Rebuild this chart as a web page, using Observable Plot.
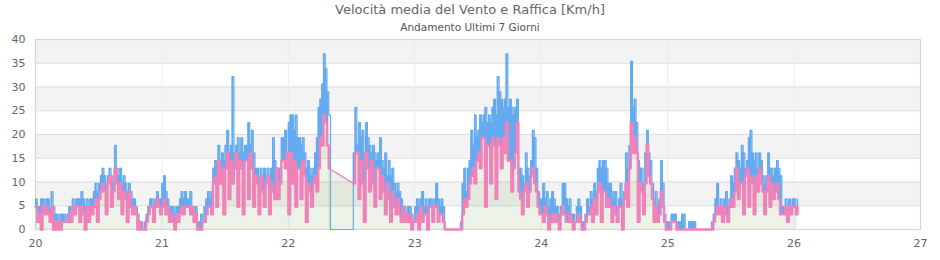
<!DOCTYPE html>
<html>
<head>
<meta charset="utf-8">
<script src="https://cdn.jsdelivr.net/npm/d3@7"></script>
<script src="https://cdn.jsdelivr.net/npm/@observablehq/plot@0.6"></script>
<style>
  html, body { margin: 0; padding: 0; background: #fff; }
  #wrap { position: relative; width: 940px; height: 260px; font-family: "DejaVu Sans", sans-serif; }
  #title { position: absolute; left: 0; width: 940px; top: 2px; text-align: center; font-size: 13px; color: #666; }
  #subtitle { position: absolute; left: 0; width: 940px; top: 21px; text-align: center; font-size: 10.5px; color: #555; }
</style>
</head>
<body>
<div id="wrap">
  <div id="chart"></div>
  <div id="title"></div>
  <div id="subtitle"></div>
</div>
<script>
const titolo = "Velocità media del Vento e Raffica [Km/h]";
const sottotitolo = "Andamento Ultimi 7 Giorni";
const xTicks = [20, 21, 22, 23, 24, 25, 26, 27];
const yTicks = [0, 5, 10, 15, 20, 25, 30, 35, 40];
const giorni = [20, 21, 22, 23, 24, 25, 26];
const n = null;

// Raffica (gust), one value every 20 minutes, per day
const raffica20 = [6.4,4.8,4.8, 6.4,6.4,4.8, 6.4,6.4,4.8, 8,4.8,3.2, 3.2,1.6,3.2, 3.2,3.2,1.6, 3.2,4.8,3.2, 6.4,4.8,6.4, 6.4,6.4,8, 6.4,4.8,6.4, 4.8,6.4,6.4, 8,9.7,8, 9.7,11.3,12.9, 11.3,9.7,11.3, 12.9,11.3,9.7, 17.7,12.9,11.3, 12.9,9.7,11.3, 9.7,8,9.7, 8,6.4,6.4, 4.8,3.2,1.6, 1.6,0,1.6, 3.2,4.8,6.4, 6.4,4.8,6.4, 8,6.4,6.4];
const raffica21 = [9.7,11.3,8, 6.4,4.8,4.8, 4.8,3.2,4.8, 4.8,6.4,8, 6.4,8,6.4, 6.4,8,4.8, 3.2,4.8,1.6, 1.6,3.2,1.6, 4.8,6.4,8, 6.4,8,12.9, 14.5,12.9,17.7, 14.5,16.1,14.5, 17.7,20.9,16.1, 17.7,32.2,16.1, 17.7,19.3,16.1, 19.3,16.1,17.7, 17.7,22.5,17.7, 20.9,16.1,12.9, 12.9,11.3,12.9, 11.3,12.9,11.3, 12.9,11.3,12.9, 19.3,14.5,12.9, 9.7,12.9,19.3, 19.3,20.9,16.1];
const raffica22 = [22.5,24.1,24.1, 20.9,24.1,19.3, 19.3,17.7,19.3, 16.1,12.9,14.5, 12.9,11.3,12.9, 16.1,19.3,25.7, 27.4,30.6,37, 33.8,29,24.1, 0,0,0, 0,0,0, 0,0,0, 0,0,0, 0,16.1,25.7, 17.7,22.5,19.3, 20.9,16.1,22.5, 19.3,17.7,16.1, 17.7,16.1,14.5, 16.1,19.3,14.5, 12.9,16.1,11.3, 14.5,11.3,12.9, 9.7,8,9.7, 8,6.4,4.8, 4.8,3.2,4.8, 4.8,3.2,1.6];
const raffica23 = [4.8,6.4,4.8, 6.4,8,4.8, 6.4,4.8,6.4, 6.4,4.8,6.4, 9.7,6.4,4.8, 6.4,4.8,0, 0,0,0, 0,0,0, 0,0,1.6, 9.7,12.9,8, 12.9,14.5,20.9, 17.7,24.1,19.3, 20.9,24.1,22.5, 24.1,25.7,22.5, 24.1,22.5,25.7, 27.4,24.1,32.2, 29,27.4,25.7, 27.4,37,25.7, 27.4,25.7,24.1, 25.7,27.4,12.9, 12.9,11.3,9.7, 16.1,12.9,11.3, 14.5,20.9,19.3, 12.9,8,6.4];
const raffica24 = [6.4,9.7,6.4, 8,4.8,6.4, 8,6.4,4.8, 4.8,3.2,4.8, 9.7,9.7,6.4, 4.8,6.4,3.2, 3.2,1.6,4.8, 6.4,4.8,1.6, 1.6,3.2,6.4, 4.8,8,6.4, 9.7,8,12.9, 14.5,12.9,14.5, 14.5,12.9,9.7, 9.7,8,6.4, 8,4.8,6.4, 9.7,6.4,8, 16.1,12.9,17.7, 35.4,25.7,27.4, 22.5,14.5,12.9, 12.9,9.7,16.1, 20.9,16.1,14.5, 9.7,6.4,8, 4.8,6.4,14.5, 9.7,3.2,1.6];
const raffica25 = [1.6,0,3.2, 3.2,3.2,1.6, 1.6,1.6,3.2, 3.2,0,0, 1.6,1.6,1.6, 1.6,0,0, 0,0,0, 0,0,0, 0,1.6,3.2, 6.4,9.7,4.8, 6.4,4.8,6.4, 8,4.8,6.4, 11.3,9.7,12.9, 16.1,14.5,12.9, 17.7,16.1,12.9, 14.5,19.3,20.9, 16.1,14.5,16.1, 12.9,16.1,14.5, 11.3,9.7,11.3, 16.1,12.9,12.9, 11.3,12.9,14.5, 12.9,11.3,4.8, 4.8,6.4,4.8, 6.4,4.8,6.4];
const raffica26 = [6.4,4.8,6.4];

// Velocità media (mean wind), same timestamps; null = missing sample
const media20 = [4.8,1.6,3.2, 0,4.8,3.2, 4.8,3.2,1.6, 4.8,0,1.6, 0,1.6,0, 1.6,1.6,1.6, 1.6,3.2,1.6, 4.8,3.2,4.8, 4.8,1.6,4.8, 3.2,0,4.8, 1.6,4.8,3.2, 4.8,6.4,1.6, 6.4,8,9.7, 8,3.2,9.7, 11.3,4.8,8, 12.9,9.7,6.4, 9.7,3.2,8, 6.4,1.6,8, 4.8,3.2,4.8, 3.2,0,1.6, 0,0,0, 1.6,3.2,4.8, 4.8,1.6,4.8, 6.4,4.8,3.2];
const media21 = [4.8,6.4,3.2, 4.8,1.6,3.2, 1.6,0,3.2, 1.6,3.2,4.8, 3.2,4.8,4.8, 4.8,3.2,4.8, 1.6,3.2,0, 0,0,1.6, 1.6,3.2,4.8, 4.8,3.2,9.7, 11.3,4.8,14.5, 9.7,12.9,3.2, 12.9,16.1,6.4, 14.5,9.7,12.9, 16.1,4.8,14.5, 12.9,3.2,14.5, 14.5,6.4,16.1, 12.9,4.8,11.3, 9.7,3.2,11.3, 8,4.8,9.7, 11.3,3.2,9.7, 8,6.4,12.9, 6.4,9.7,14.5, 14.5,12.9,16.1];
const media22 = [3.2,16.1,9.7, 14.5,4.8,12.9, 12.9,6.4,14.5, 11.3,1.6,9.7, 8,4.8,9.7, 11.3,8,12.9, 19.3,17.7,24.1, 22.5,17.7,12.9, n,n,n, n,n,n, n,n,n, n,n,n, n,9.7,16.1, 16.1,6.4,14.5, 9.7,1.6,16.1, 12.9,8,14.5, 9.7,4.8,12.9, 12.9,6.4,11.3, 8,3.2,9.7, 6.4,1.6,8, 4.8,3.2,6.4, 3.2,1.6,4.8, 1.6,3.2,1.6, 3.2,0,1.6];
const media23 = [1.6,3.2,0, 4.8,1.6,3.2, 3.2,0,4.8, 4.8,1.6,4.8, 4.8,1.6,3.2, 3.2,1.6,0, 0,0,0, 0,0,0, 0,0,0, 3.2,6.4,4.8, 6.4,9.7,11.3, 12.9,9.7,14.5, 16.1,12.9,19.3, 19.3,4.8,17.7, 17.7,9.7,19.3, 17.7,6.4,19.3, 17.7,12.9,19.3, 16.1,22.5,14.5, 14.5,8,12.9, 16.1,22.5,8, 6.4,3.2,8, 9.7,4.8,8, 11.3,12.9,9.7, 8,4.8,3.2];
const media24 = [3.2,1.6,4.8, 3.2,0,1.6, 3.2,1.6,3.2, 1.6,0,3.2, 4.8,3.2,1.6, 1.6,3.2,1.6, 0,1.6,1.6, 3.2,1.6,0, 0,1.6,3.2, 3.2,4.8,1.6, 6.4,3.2,8, 9.7,1.6,8, 8,4.8,6.4, 4.8,1.6,4.8, 3.2,1.6,4.8, 4.8,0,6.4, 9.7,4.8,12.9, 22.5,16.1,19.3, 16.1,1.6,9.7, 8,3.2,9.7, 17.7,11.3,9.7, 6.4,1.6,4.8, 1.6,3.2,8, 4.8,1.6,0];
const media25 = [0,0,1.6, 1.6,1.6,0, 0,0,0, 0,0,0, 0,0,0, 0,0,0, 0,0,0, 0,0,0, 0,0,1.6, 3.2,4.8,3.2, 4.8,1.6,4.8, 3.2,1.6,4.8, 6.4,4.8,8, 12.9,6.4,9.7, 9.7,3.2,11.3, 12.9,4.8,11.3, 9.7,3.2,11.3, 8,12.9,9.7, 8,3.2,8, 11.3,4.8,9.7, 6.4,8,9.7, 6.4,3.2,3.2, 3.2,4.8,1.6, 4.8,3.2,4.8];
const media26 = [4.8,3.2,4.8];

const raffica = [raffica20, raffica21, raffica22, raffica23, raffica24, raffica25, raffica26];
const media = [media20, media21, media22, media23, media24, media25, media26];

document.getElementById("title").textContent = titolo;
document.getElementById("subtitle").textContent = sottotitolo;

const rows = [];
giorni.forEach((g, k) => {
  raffica[k].forEach((v, i) => rows.push({t: g + i / 72, gust: v, mean: media[k][i]}));
});
// the two samples that bound the missing stretch of mean wind (drawn as a straight segment)
const gapRows = [];
for (let i = 1; i < rows.length; i++) {
  if (rows[i].mean != null && rows[i - 1].mean == null) {
    let j = i - 1;
    while (j >= 0 && rows[j].mean == null) j--;
    if (j >= 0) gapRows.push(rows[j], rows[i]);
  }
}
const bands = yTicks.filter((d, i) => i % 2 === 1 && i < yTicks.length - 1);

const BLUE = "#64aaf0", PINK = "#f082b9";
const chart = Plot.plot({
  width: 940,
  height: 260,
  marginTop: 39,
  marginBottom: 31,
  marginLeft: 35,
  marginRight: 20,
  style: {fontFamily: "DejaVu Sans, sans-serif", fontSize: "11px", color: "#666", background: "#fff"},
  x: {domain: [xTicks[0], xTicks[xTicks.length - 1]], label: null},
  y: {domain: [yTicks[0], yTicks[yTicks.length - 1]], label: null},
  marks: [
    Plot.rect(bands, {y1: d => d, y2: d => d + 5, fill: "#f3f3f3"}),
    Plot.gridY(yTicks, {stroke: "#dcdcdc", strokeOpacity: 1, strokeWidth: 1.2}),
    Plot.gridX(xTicks, {stroke: "#ebebf8", strokeOpacity: 1, strokeWidth: 1}),
    Plot.frame({stroke: "#d6d6d6", strokeWidth: 1.2}),
    // gust: filled between the mean and the gust value
    Plot.areaY(rows, {x: "t", y1: "mean", y2: "gust", curve: "step-after", fill: BLUE}),
    Plot.line(rows, {x: "t", y: "gust", curve: "step-after", stroke: BLUE, strokeWidth: 1.2}),
    // mean: light green area under a pink line
    Plot.areaY(rows, {x: "t", y: "mean", curve: "step-after", fill: "rgb(160,190,140)", fillOpacity: 0.2}),
    Plot.areaY(gapRows, {x: "t", y: "mean", fill: "rgb(160,190,140)", fillOpacity: 0.2}),
    Plot.line(rows, {x: "t", y: "mean", curve: "step-after", stroke: PINK, strokeWidth: 2.4}),
    Plot.line(gapRows, {x: "t", y: "mean", stroke: PINK, strokeWidth: 1.3}),
    Plot.axisY(yTicks, {tickSize: 0, tickPadding: 10, fill: "#666", fontSize: 11, label: null}),
    Plot.axisX(xTicks, {tickSize: 0, tickPadding: 10, fill: "#666", fontSize: 11, tickFormat: "d", label: null})
  ]
});
document.getElementById("chart").appendChild(chart);
</script>
</body>
</html>
